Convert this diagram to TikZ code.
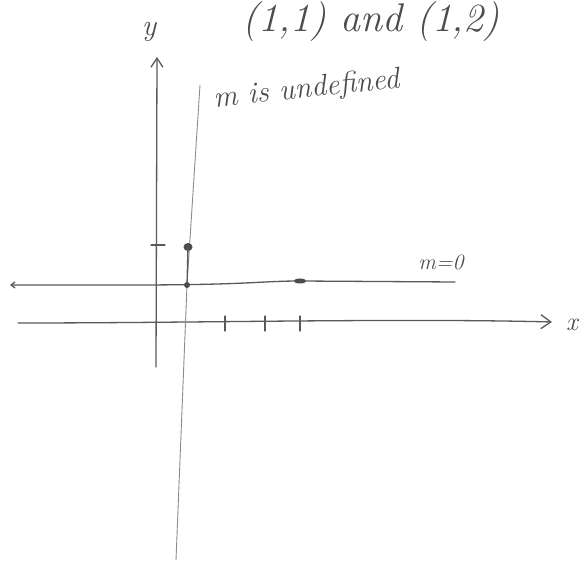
\documentclass[tikz,border=0pt]{standalone}
\usetikzlibrary{arrows.meta}
\begin{document}
\begin{tikzpicture}[x=1pt,y=-1pt,
  pen/.style={draw=black!65, line width=1.3pt, line cap=round, line join=round},
  thinpen/.style={draw=black!45, line width=0.9pt, line cap=round},
  hand/.style={text=black!70, font=\itshape},
  dotmark/.style={fill=black!70, draw=none}]
\useasboundingbox (0,0) rectangle (582,564);
\clip (0,0) rectangle (582,564);
% axes coordinates
\coordinate (ybot) at (156,367);
\coordinate (ytop) at (157,57);
\coordinate (xleft) at (18,323);
\coordinate (xright) at (552,322);
\coordinate (hleft) at (10,285);
\coordinate (hmid) at (300,281);
\coordinate (hright) at (455,282);
\coordinate (vtop) at (200,85);
\coordinate (vbot) at (176,560);
\coordinate (p12) at (188,247);
\coordinate (p11) at (187,285);
% y axis
\draw[pen, -{Straight Barb[length=9pt,width=12pt]}] (ybot) -- (ytop);
% x axis
\draw[pen, -{Straight Barb[length=10pt,width=14pt]}] (xleft) .. controls (200,323) and (400,318) .. (xright);
% horizontal line m=0
\draw[pen, {Straight Barb[length=4pt,width=6pt]}-] (hleft) -- (130,285) .. controls (250,285) and (260,281) .. (hmid) -- (hright);
% vertical line x=1
\draw[thinpen] (vtop) -- (p11) -- (vbot);
% ticks
\draw[pen] (151,245) -- (165,245);
\foreach \tx in {225,265,300}{\draw[pen] (\tx,316) -- (\tx,331);}
% points
\fill[dotmark] (p12) ellipse (4.5pt and 4pt);
\draw[pen] (p12) -- (p11);
\fill[dotmark] (p11) ellipse (3pt and 3pt);
\fill[dotmark] (hmid) ellipse (6pt and 2.5pt);
% labels
\node[hand, inner sep=0pt, font=\itshape\fontsize{40}{44}\selectfont, anchor=base] (top) at (371,32) {(1,1) and (1,2)};
\node[hand, font=\itshape\fontsize{30}{34}\selectfont] (ylab) at (149,32) {y};
\node[hand, font=\itshape\fontsize{26}{30}\selectfont] (xlab) at (572,325) {x};
\node[hand, font=\itshape\fontsize{30}{34}\selectfont, rotate=6, anchor=west] (mund) at (210,100) {m is undefined};
\node[hand, font=\itshape\fontsize{22}{26}\selectfont] (mzero) at (441,262) {m=0};
\end{tikzpicture}
\end{document}
